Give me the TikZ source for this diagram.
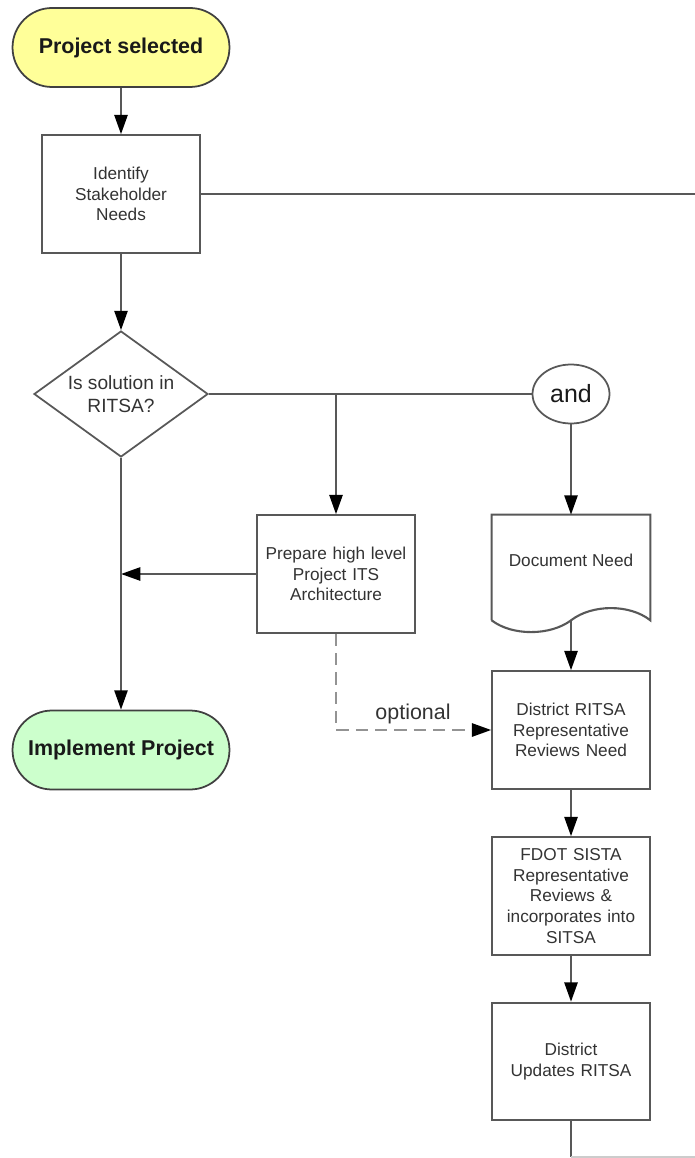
\documentclass[tikz,border=0pt]{standalone}
\usepackage{fontspec}
\setmainfont{Liberation Sans}
\usetikzlibrary{arrows.meta,shapes.geometric}
\definecolor{linegray}{HTML}{585858}
\definecolor{textgray}{HTML}{333333}
\definecolor{termyellow}{HTML}{FFFF99}
\definecolor{termgreen}{HTML}{CCFFCC}
\begin{document}
\begin{tikzpicture}[x=0.02cm,y=-0.02cm,
  every node/.style={font=\fontsize{9.8pt}{11.7pt}\selectfont, text=textgray, align=center},
  terminal/.style={rectangle, rounded corners=0.79cm, draw=black!75, line width=1pt,
    minimum width=4.34cm, minimum height=1.58cm, inner sep=0pt,
    font=\fontsize{12.2pt}{14pt}\selectfont\bfseries, text=black!90},
  stepbox/.style={rectangle, draw=linegray, line width=1.2pt, fill=white,
    minimum width=3.15cm, minimum height=2.35cm, inner sep=1pt, text width=3cm},
  decision/.style={diamond, draw=linegray, line width=1pt, inner sep=0pt, aspect=1.38,
    minimum width=3.48cm, minimum height=2.52cm,
    font=\fontsize{10.9pt}{13pt}\selectfont},
  joiner/.style={ellipse, draw=linegray, line width=1pt, minimum width=1.54cm,
    minimum height=1.18cm, inner sep=0pt, font=\fontsize{14.2pt}{16pt}\selectfont, text=black!90},
  flow/.style={draw=linegray, line width=1.2pt},
  arrow/.style={flow, -{Triangle[length=11pt,width=7.5pt,black]}},
  optflow/.style={draw=gray!85, line width=1.3pt, dash pattern=on 7pt off 4pt,
    -{Triangle[length=11pt,width=7.5pt,black]}}
]
\useasboundingbox (0,0) rectangle (695,1158);

% left column
\node[terminal, fill=termyellow] (ps) at (121,47.5) {Project selected};
\node[stepbox] (id) at (121,194) {Identify\\Stakeholder\\Needs};
\node[decision] (dia) at (121,394) {Is solution in\\RITSA?};
\node[terminal, fill=termgreen] (impl) at (121,750) {Implement Project};

% middle and right columns
\node[joiner] (and) at (571,394) {and};
\node[stepbox] (prep) at (336,574) {Prepare high level\\Project ITS\\Architecture};
\node[rectangle, minimum width=3.16cm, minimum height=2.1cm, inner sep=0pt] (doc) at (571,567.5) {};
\node[stepbox] (dist) at (571,730) {District RITSA\\Representative\\Reviews Need};
\node[stepbox] (fdot) at (571,896) {FDOT SISTA\\Representative\\Reviews \&\\incorporates into\\SITSA};
\node[stepbox] (upd) at (571,1061.5) {District\\Updates RITSA};
\node[font=\fontsize{12.2pt}{14pt}\selectfont] (opt) at (413,714) {optional};

% document shape with wavy bottom edge
\draw[linegray, line width=1.2pt, fill=white]
  (doc.south west) -- (doc.north west) -- (doc.north east) -- (doc.south east)
  .. controls (630,604) and (592,604) .. (doc.south)
  .. controls (550,636) and (512,636) .. (doc.south west);
\node (doctext) at (571,560) {Document Need};

% junctions and free ends
\coordinate (edgeR) at (695,0);
\coordinate (dbend) at (prep.south |- dist.west);
\coordinate (down) at (571,1157);
\coordinate (offB) at (695,1157);

% connectors
\draw[arrow] (ps) -- (id);
\draw[flow] (id.east) -- (id.east -| edgeR);
\draw[arrow] (id) -- (dia);
\draw[flow] (dia.east) -- (and.west);
\draw[arrow] (dia.east -| prep.north) -- (prep.north);
\draw[arrow] (and) -- (doc.north);
\draw[arrow] (prep.west) -- (prep.west -| dia.south);
\draw[arrow] (dia.south) -- (impl.north);
\draw[optflow] (prep.south) -- (dbend) -- (dist.west);
\draw[arrow] (doc.south) -- (dist.north);
\draw[arrow] (dist) -- (fdot);
\draw[arrow] (fdot) -- (upd);
\draw[flow] (upd.south) -- (down);
\draw[draw=gray!40, line width=0.6pt] (down) -- (offB);
\end{tikzpicture}
\end{document}
